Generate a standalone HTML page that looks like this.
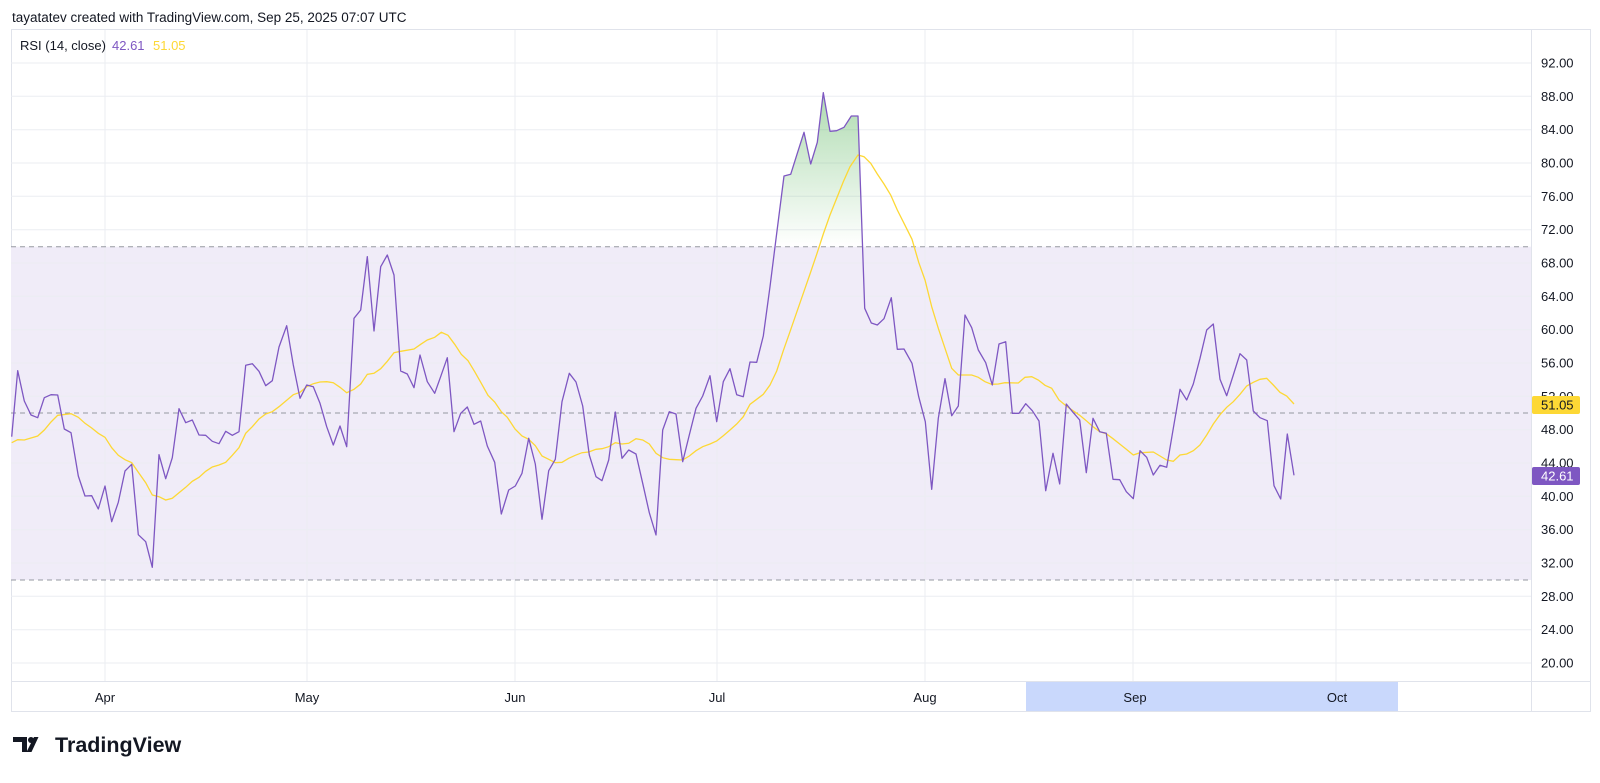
<!DOCTYPE html>
<html><head><meta charset="utf-8"><style>
body{margin:0;background:#fff;width:1600px;height:778px;overflow:hidden;font-family:"Liberation Sans",sans-serif;}
</style></head><body>
<svg width="1600" height="778" viewBox="0 0 1600 778" xmlns="http://www.w3.org/2000/svg" font-family="Liberation Sans, sans-serif">
<defs>
<linearGradient id="g" gradientUnits="userSpaceOnUse" x1="0" y1="92" x2="0" y2="246.7">
<stop offset="0" stop-color="#4caf50" stop-opacity="0.45"/><stop offset="1" stop-color="#4caf50" stop-opacity="0"/></linearGradient>
<clipPath id="c"><rect x="0" y="0" width="1600" height="246.7"/></clipPath>
</defs>
<text x="12" y="22" font-size="13.5" fill="#131722">tayatatev created with TradingView.com, Sep 25, 2025 07:07 UTC</text>
<rect x="11.5" y="29.5" width="1579" height="682" fill="none" stroke="#e0e3eb"/>
<rect x="11" y="246.7" width="1520" height="333.3" fill="#f0ecf8"/>
<g stroke="#ebedf2" stroke-width="1">
<line x1="11" x2="1531" y1="63" y2="63"/><line x1="11" x2="1531" y1="96.3" y2="96.3"/><line x1="11" x2="1531" y1="129.7" y2="129.7"/><line x1="11" x2="1531" y1="163" y2="163"/><line x1="11" x2="1531" y1="196.3" y2="196.3"/><line x1="11" x2="1531" y1="229.7" y2="229.7"/><line x1="11" x2="1531" y1="263" y2="263"/><line x1="11" x2="1531" y1="296.3" y2="296.3"/><line x1="11" x2="1531" y1="329.7" y2="329.7"/><line x1="11" x2="1531" y1="363" y2="363"/><line x1="11" x2="1531" y1="396.3" y2="396.3"/><line x1="11" x2="1531" y1="429.7" y2="429.7"/><line x1="11" x2="1531" y1="463" y2="463"/><line x1="11" x2="1531" y1="496.3" y2="496.3"/><line x1="11" x2="1531" y1="529.7" y2="529.7"/><line x1="11" x2="1531" y1="563" y2="563"/><line x1="11" x2="1531" y1="596.3" y2="596.3"/><line x1="11" x2="1531" y1="629.7" y2="629.7"/><line x1="11" x2="1531" y1="663" y2="663"/>
<line x1="105" x2="105" y1="30" y2="681"/><line x1="307" x2="307" y1="30" y2="681"/><line x1="515" x2="515" y1="30" y2="681"/><line x1="717" x2="717" y1="30" y2="681"/><line x1="925" x2="925" y1="30" y2="681"/><line x1="1133" x2="1133" y1="30" y2="681"/><line x1="1336" x2="1336" y1="30" y2="681"/>
</g>
<g stroke="#9598a1" stroke-dasharray="5,4" stroke-width="1">
<line x1="11" x2="1531" y1="246.7" y2="246.7"/><line x1="11" x2="1531" y1="413" y2="413"/><line x1="11" x2="1531" y1="580" y2="580"/>
</g>
<polygon clip-path="url(#c)" fill="url(#g)" points="770,286.7 776.7,233.3 784,176 790.7,174.3 797.3,153.3 804,132.3 810.7,164 817.3,142.3 823.3,92.7 830,131.3 836.7,130.7 844,127.3 851.3,116 858,116 864.7,308.3"/>
<polyline fill="none" stroke="#fdd835" stroke-width="1.3" points="11.7,442.7 17.7,439.7 24.3,440 37.7,436 44.3,430 51,422 57.7,415.3 71,413.7 78.3,417.3 85,423.3 91.7,428 98.3,433.3 105,437.3 111.7,447.7 118.3,455.3 125,459.7 131.7,462.7 138.3,472.3 145.7,482.7 152.3,495 159,496.7 165.7,500 172.3,498.3 179,492.7 185.7,487.3 192.3,481.3 199,477.3 205.7,471.3 212.3,467 219,465 225.7,462.3 232.3,455.3 239,447.7 245.7,433.3 252.3,426.7 259,419 265.7,414 272.3,411.7 279,406.7 286.7,400.3 293.3,394.7 300,392.3 306.7,386.7 313.3,383.7 320,382 326.7,381.7 333.3,382.7 340,387.3 346.7,392.7 354,389.3 360.7,384 367.3,374.3 374,373.3 380.7,368.7 387.3,361.3 394,352.7 400.7,351.3 414,349 420.7,344.3 427.3,340 434.7,337.3 441.3,332.3 448,335.3 454.7,344.3 461.3,354.3 468,360.7 474.7,371.7 481.3,383.3 488,395.3 494.7,402 501.3,411.7 507.3,417.3 515,429 522,436 528.7,439.3 535.3,445.7 542,456 548.7,459.3 555.3,462.7 562,462.3 568.7,458.3 575.3,455.3 582,452.7 588.7,452 596,449.3 602,448.7 608.7,446.7 615.3,442.7 622,444 628.7,443.3 636,438.7 642.7,440 649.3,444 656,453.3 662.7,457.7 669.3,459.3 676,459.7 682.7,460 689.3,456 696,450.7 702.7,446.7 710,444 716.7,441 723.3,435.7 730,430 736.7,424 743.3,416.7 750,404.3 756.7,399.3 763.3,394.3 770,385 776.7,371 783.3,350.7 790,331.7 796.7,312.3 803.3,293.3 810,274 816.7,254.3 823.3,234 830,215 836.7,198.3 843.3,181.7 850,166.7 858,155 864,156.7 870.7,163.3 877.3,174 884,184 890.7,195 897.3,210 904,223.3 912,239.3 918.7,262.3 925,280 931.7,306.7 938.3,328.3 945,348.3 951.7,368.3 958.3,375 971.7,375 978.3,377.3 985,381.7 991.7,384.3 998.3,384 1005,382.7 1018.3,383 1025,377.3 1031.7,376.7 1038.3,380 1045,385.3 1051.7,388.3 1059,400 1066.3,406 1073,410.7 1079.7,415.3 1086.3,420.7 1093,426.7 1099.7,431.7 1106.3,433.7 1113,438.7 1119.7,444 1126.3,449.3 1133.3,455 1140,452.7 1153.3,452 1160,456 1166.7,460 1173.3,461.3 1180,455 1186.7,454 1193.3,450.7 1200,445 1206.7,435 1213.3,424 1220,414.7 1226.7,407.3 1233.3,401.7 1240,394.3 1246.7,386 1253.3,382.3 1260,379.3 1266.7,378.3 1273.3,385 1280,392.3 1286.7,396 1294,404"/>
<polyline fill="none" stroke="#7e57c2" stroke-width="1.3" stroke-linejoin="round" points="11.7,436.7 17.7,370.7 24.3,401 31,415 37.7,417.7 44.3,397.7 51,394.7 57.7,395 64.3,429 71,432.7 78.3,476 85,496 91.7,495.7 98.3,509 105,486 111.7,521.7 118.3,502.3 125,471 131.7,464.3 138.3,534.7 145.7,541.7 152.3,567.3 159,454.7 165.7,478.7 172.3,457.7 179,408.7 185.7,422.7 192.3,420 199,435 205.7,435.3 212.3,441.3 219,443.7 225.7,431.3 232.3,435.3 239,431.7 245.7,365.3 252.3,363.7 259,371.3 265.7,385.7 272.3,380.7 279,347 286.7,325.7 293.3,365 300,398.3 306.7,385 313.3,386.7 320,403.3 326.7,426.7 333.3,445 340,426 346.7,446.7 354,318.3 360.7,310 367.3,256.7 374,331 380.7,266.7 387.3,255 394,275 400.7,371 407.3,374 414,387.7 420,355 427.3,381.7 434.7,393.3 441,375.7 447.3,357.7 454,431.7 460.7,413.3 467.3,407 474,424.3 480.7,421 487.3,446 494.7,462.3 501.3,514 508.7,490 515.3,486 522,473.3 528.7,438.3 535.3,464 542,519.3 548.7,470.7 555.3,459.3 562,401.7 569.3,373.3 576,382 582.7,406 589.3,455 596,476.7 602,480.7 608.7,460 615.3,412 622,458.3 628.7,450 636,454 642.7,483.3 649.3,512.7 656,535 662.7,430 669.3,411.7 676,414 682.7,461.7 689.3,435 696,408.3 702.7,396 710,375.7 716.7,421.7 723.3,381.7 730,368.7 736.7,394.7 743.3,396.7 750,362 756.7,362.3 763.3,336 770,286.7 776.7,233.3 784,176 790.7,174.3 797.3,153.3 804,132.3 810.7,164 817.3,142.3 823.3,92.7 830,131.3 836.7,130.7 844,127.3 851.3,116 858,116 864.7,308.3 871.3,323 877.3,325 884,318.7 891.3,297.7 897.3,349.3 904,349 912,363.3 918.7,396.7 925.3,421.7 931.7,489.3 938.3,418.3 945,378.7 951.7,415.7 958.3,406 965,315 971.7,327.7 978.3,350 985.7,362.7 992.3,385 999,344 1005.7,341.7 1012.3,413.3 1019,413.3 1025.7,403.7 1032.3,410.7 1039,421 1045.7,490.7 1053,453.3 1059.7,484 1066.3,404 1073,412.3 1079.7,420 1086.3,472.7 1093,418.3 1099.7,431.7 1106.3,433.3 1113,479.3 1119.7,479.7 1126.3,491.7 1133.3,498.7 1140,450.7 1146.7,457.3 1153.3,475 1160,465.3 1166.7,467.3 1173.3,428.3 1180,389.3 1186.7,400 1193.3,384 1200,358.3 1206.7,330 1213.3,324 1220,379.3 1226.7,395.7 1233.3,375 1240,353.7 1246.7,360 1253.3,411 1260,417.7 1267.3,420.7 1274,485.7 1280.7,499 1287.3,434 1294,475.3"/>
<text x="20" y="50" font-size="13" fill="#131722">RSI (14, close)</text>
<text x="112" y="50" font-size="13" fill="#7e57c2">42.61</text>
<text x="153" y="50" font-size="13" fill="#fdd835">51.05</text>
<line x1="1531.5" x2="1531.5" y1="30" y2="711" stroke="#e0e3eb"/>
<line x1="11" x2="1591" y1="681.5" y2="681.5" stroke="#e0e3eb"/>
<g font-size="13" fill="#131722">
<text x="1541" y="67.5">92.00</text><text x="1541" y="100.8">88.00</text><text x="1541" y="134.2">84.00</text><text x="1541" y="167.5">80.00</text><text x="1541" y="200.8">76.00</text><text x="1541" y="234.2">72.00</text><text x="1541" y="267.5">68.00</text><text x="1541" y="300.8">64.00</text><text x="1541" y="334.2">60.00</text><text x="1541" y="367.5">56.00</text><text x="1541" y="400.8">52.00</text><text x="1541" y="434.2">48.00</text><text x="1541" y="467.5">44.00</text><text x="1541" y="500.8">40.00</text><text x="1541" y="534.2">36.00</text><text x="1541" y="567.5">32.00</text><text x="1541" y="600.8">28.00</text><text x="1541" y="634.2">24.00</text><text x="1541" y="667.5">20.00</text>
</g>
<rect x="1532" y="396" width="48" height="18" rx="2" fill="#fdd835"/>
<text x="1541" y="409.5" font-size="13" fill="#131722">51.05</text>
<rect x="1532" y="467" width="48" height="18" rx="2" fill="#7e57c2"/>
<text x="1541" y="480.5" font-size="13" fill="#fff">42.61</text>
<rect x="1026" y="682" width="372" height="29" fill="#c9d8fc"/>
<g font-size="13" fill="#131722" text-anchor="middle">
<text x="105" y="702">Apr</text><text x="307" y="702">May</text><text x="515" y="702">Jun</text><text x="717" y="702">Jul</text><text x="925" y="702">Aug</text><text x="1135" y="702">Sep</text><text x="1337" y="702">Oct</text>
</g>
<g fill="#131722">
<path d="M13 737h14v15h-5v-10h-9z"/><circle cx="31" cy="740" r="3"/><path d="M34 737h4.5l-7 15h-5z"/>
</g>
<text x="55" y="752" font-size="21.5" font-weight="bold" fill="#131722">TradingView</text>
</svg>
</body></html>
